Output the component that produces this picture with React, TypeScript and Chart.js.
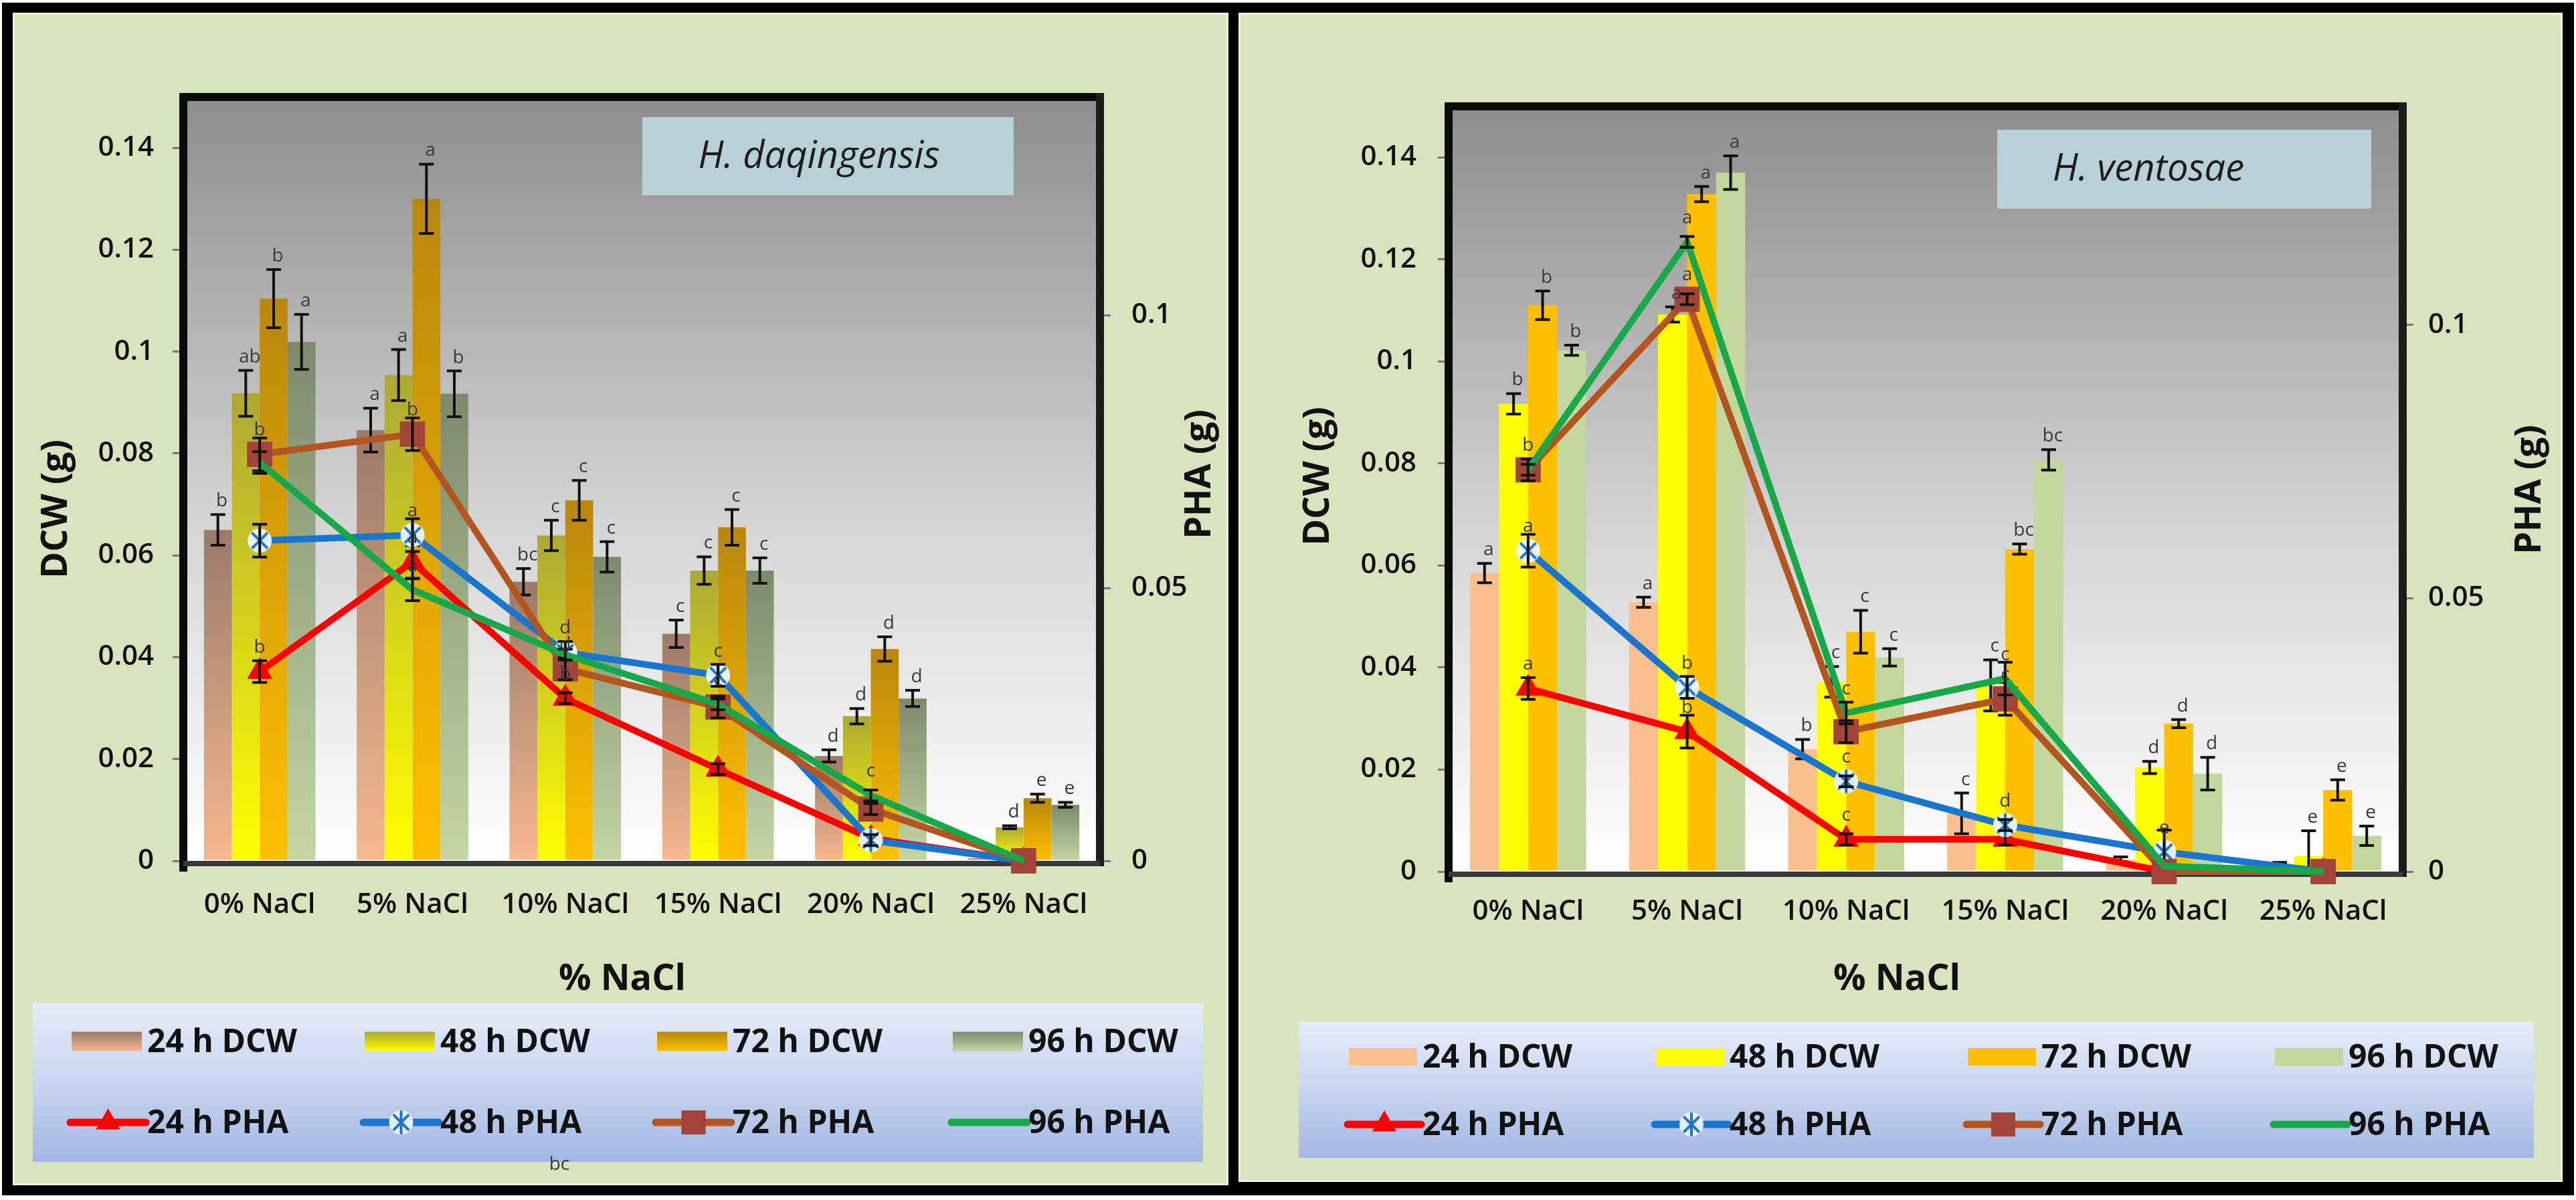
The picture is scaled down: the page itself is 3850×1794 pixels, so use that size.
import { useEffect, useRef } from "react";
import { Chart, registerables } from "chart.js";

Chart.register(...registerables);

const FONT = '"Open Sans", sans-serif';

const categories = ["0% NaCl", "5% NaCl", "10% NaCl", "15% NaCl", "20% NaCl", "25% NaCl"];
const dcwLabels = ["24 h DCW", "48 h DCW", "72 h DCW", "96 h DCW"];
const phaLabels = ["24 h PHA", "48 h PHA", "72 h PHA", "96 h PHA"];

// H. daqingensis (left panel)
const dqDcw24 = [0.065, 0.0846, 0.0548, 0.0446, 0.0206, 0.0005];
const dqDcw48 = [0.0918, 0.0954, 0.0639, 0.057, 0.0284, 0.0066];
const dqDcw72 = [0.1104, 0.13, 0.0708, 0.0655, 0.0416, 0.0123];
const dqDcw96 = [0.1019, 0.0917, 0.0597, 0.057, 0.0319, 0.011];
const dqDcw24Err = [0.003, 0.0043, 0.0026, 0.0027, 0.0012, 0];
const dqDcw48Err = [0.0045, 0.005, 0.003, 0.0027, 0.0015, 0.0003];
const dqDcw72Err = [0.0057, 0.0068, 0.0039, 0.0035, 0.0024, 0.0008];
const dqDcw96Err = [0.0054, 0.0045, 0.003, 0.0025, 0.0016, 0.0005];
const dqDcw24Let = ["b", "a", "bc", "c", "d", ""];
const dqDcw48Let = ["ab", "a", "c", "c", "d", "d"];
const dqDcw72Let = ["b", "a", "c", "c", "d", "e"];
const dqDcw96Let = ["a", "b", "c", "c", "d", "e"];
const dqPha24 = [0.0347, 0.0548, 0.0298, 0.0168, 0.0041, 0];
const dqPha48 = [0.0587, 0.0597, 0.0382, 0.034, 0.0038, 0];
const dqPha72 = [0.0745, 0.0782, 0.0352, 0.0282, 0.0095, 0];
const dqPha96 = [0.073, 0.0497, 0.0378, 0.0287, 0.012, 0];
const dqPha24Err = [0.002, 0.003, 0.001, 0.001, 0.001, 0];
const dqPha48Err = [0.003, 0.003, 0.002, 0.002, 0.001, 0];
const dqPha72Err = [0.003, 0.003, 0.002, 0.002, 0.001, 0];
const dqPha96Err = [0.002, 0.002, 0.001, 0.001, 0.001, 0];
const dqPha24Let = ["b", "a", "b", "", "", ""];
const dqPha48Let = ["", "a", "d", "c", "", ""];
const dqPha72Let = ["b", "b", "d", "", "", ""];
const dqPha96Let = ["", "a", "", "c", "c", ""];

// H. ventosae (right panel)
const vnDcw24 = [0.0585, 0.0528, 0.024, 0.0114, 0.0024, 0.0015];
const vnDcw48 = [0.0917, 0.1092, 0.0372, 0.0365, 0.0204, 0.003];
const vnDcw72 = [0.111, 0.1328, 0.047, 0.0632, 0.029, 0.0160];
const vnDcw96 = [0.1022, 0.137, 0.042, 0.0807, 0.0192, 0.0070];
const vnDcw24Err = [0.0019, 0.001, 0.0019, 0.004, 0.0005, 0.0003];
const vnDcw48Err = [0.002, 0.0015, 0.003, 0.005, 0.0012, 0.005];
const vnDcw72Err = [0.0028, 0.0015, 0.0042, 0.001, 0.0008, 0.002];
const vnDcw96Err = [0.001, 0.0033, 0.0017, 0.002, 0.0032, 0.0019];
const vnDcw24Let = ["a", "a", "b", "c", "", ""];
const vnDcw48Let = ["b", "a", "c", "c", "d", "e"];
const vnDcw72Let = ["b", "a", "c", "bc", "d", "e"];
const vnDcw96Let = ["b", "a", "c", "bc", "d", "e"];
const vnPha24 = [0.0335, 0.0256, 0.0059, 0.0059, 0, 0];
const vnPha48 = [0.0587, 0.0337, 0.0165, 0.0085, 0.0036, 0];
const vnPha72 = [0.0735, 0.1047, 0.0256, 0.0316, 0, 0];
const vnPha96 = [0.0735, 0.1152, 0.029, 0.0353, 0.001, 0];
const vnPha24Err = [0.002, 0.003, 0.001, 0.001, 0, 0];
const vnPha48Err = [0.003, 0.002, 0.001, 0.001, 0.004, 0];
const vnPha72Err = [0.002, 0.001, 0.002, 0.003, 0, 0];
const vnPha96Err = [0.001, 0.001, 0.002, 0.003, 0, 0];
const vnPha24Let = ["a", "b", "c", "", "", ""];
const vnPha48Let = ["a", "b", "c", "d", "e", ""];
const vnPha72Let = ["b", "a", "", "c", "", ""];
const vnPha96Let = ["", "a", "c", "c", "", ""];

// colours
const gradBars = [
    ["#9a7a68", "#f6b88f"],
    ["#aca835", "#ffff00"],
    ["#b9870c", "#ffc000"],
    ["#7c8a6c", "#c3d6a3"],
];
const flatBars = ["#fabf8f", "#ffff00", "#ffc000", "#c3d69b"];
const lineColors = ["#ff0000", "#1a75cf", "#b4551f", "#17a84a"];
const rectColor = "#a3443a";

function makeStarMarker(size: number, color: string) {
    const c = document.createElement("canvas");
    c.width = size;
    c.height = size;
    const g = c.getContext("2d")!;
    const r = size / 2;
    drawStar(g, r, r, r - 2, color);
    return c;
}

function drawStar(g: CanvasRenderingContext2D, x: number, y: number, r: number, color: string) {
    g.save();
    g.fillStyle = "rgba(235,245,255,0.95)";
    g.beginPath();
    g.arc(x, y, r, 0, Math.PI * 2);
    g.fill();
    g.strokeStyle = color;
    g.lineWidth = 4;
    g.lineCap = "round";
    const d = (r - 3) * Math.SQRT1_2;
    g.beginPath();
    g.moveTo(x, y - r + 2);
    g.lineTo(x, y + r - 2);
    g.moveTo(x - d, y - d);
    g.lineTo(x + d, y + d);
    g.moveTo(x + d, y - d);
    g.lineTo(x - d, y + d);
    g.stroke();
    g.restore();
}

type PanelSpec = {
    left: number; top: number; width: number; height: number;
    area: { left: number; right: number; top: number; bottom: number };
    gradient: boolean;
    title: string;
    titleBox: number[];
    titleAt: number[];
    dcwTitleAt: number[];
    phaTitleAt: number[];
    naclTitleAt: number[];
    legendBox: number[];
    legendCols: number[];
    legendRows: number[];
    swatch: number[];
    tickPad: { x: number; y: number; y1: number };
    stray?: { text: string; x: number; y: number };
    dcw: number[][]; dcwErr: number[][]; dcwLet: string[][];
    pha: number[][]; phaErr: number[][]; phaLet: string[][];
};

const leftSpec: PanelSpec = {
    left: 19, top: 19, width: 1817, height: 1753,
    area: { left: 255, right: 1625, top: 126, bottom: 1268 },
    gradient: true,
    title: "H. daqingensis",
    titleBox: [941, 156, 1496, 273],
    titleAt: [1205, 216],
    dcwTitleAt: [66, 742],
    phaTitleAt: [1775, 690],
    naclTitleAt: [911, 1446],
    legendBox: [30, 1481, 1779, 1718],
    legendCols: [88, 526, 963, 1405],
    legendRows: [1538, 1659],
    swatch: [105, 29],
    tickPad: { x: 41, y: 28, y1: 31 },
    stray: { text: "bc", x: 817, y: 1722 },
    dcw: [dqDcw24, dqDcw48, dqDcw72, dqDcw96],
    dcwErr: [dqDcw24Err, dqDcw48Err, dqDcw72Err, dqDcw96Err],
    dcwLet: [dqDcw24Let, dqDcw48Let, dqDcw72Let, dqDcw96Let],
    pha: [dqPha24, dqPha48, dqPha72, dqPha96],
    phaErr: [dqPha24Err, dqPha48Err, dqPha72Err, dqPha96Err],
    phaLet: [dqPha24Let, dqPha48Let, dqPha72Let, dqPha96Let],
};

const rightSpec: PanelSpec = {
    left: 1851, top: 19, width: 1979, height: 1748,
    area: { left: 314, right: 1740, top: 140, bottom: 1284 },
    gradient: false,
    title: "H. ventosae",
    titleBox: [1134, 175, 1693, 293],
    titleAt: [1360, 235],
    dcwTitleAt: [120, 693],
    phaTitleAt: [1931, 713],
    naclTitleAt: [984, 1446],
    legendBox: [90, 1509, 1936, 1712],
    legendCols: [165, 624, 1090, 1549],
    legendRows: [1561, 1662],
    swatch: [102, 26],
    tickPad: { x: 35, y: 32, y1: 22 },
    dcw: [vnDcw24, vnDcw48, vnDcw72, vnDcw96],
    dcwErr: [vnDcw24Err, vnDcw48Err, vnDcw72Err, vnDcw96Err],
    dcwLet: [vnDcw24Let, vnDcw48Let, vnDcw72Let, vnDcw96Let],
    pha: [vnPha24, vnPha48, vnPha72, vnPha96],
    phaErr: [vnPha24Err, vnPha48Err, vnPha72Err, vnPha96Err],
    phaLet: [vnPha24Let, vnPha48Let, vnPha72Let, vnPha96Let],
};

function drawMarker(g: CanvasRenderingContext2D, k: number, x: number, y: number) {
    g.save();
    if (k === 0) {
        const r = 21;
        g.fillStyle = lineColors[0];
        g.beginPath();
        g.moveTo(x, y - r);
        g.lineTo(x + r * 0.866, y + r / 2);
        g.lineTo(x - r * 0.866, y + r / 2);
        g.closePath();
        g.fill();
    } else if (k === 1) {
        drawStar(g, x, y, 18, lineColors[1]);
    } else if (k === 2) {
        g.fillStyle = rectColor;
        g.fillRect(x - 18, y - 18, 36, 36);
    }
    g.restore();
}

function decorPlugin(spec: PanelSpec) {
    return {
        id: "decor",
        beforeDraw(chart: any) {
            const { ctx, chartArea: a } = chart;
            ctx.save();
            const g = ctx.createLinearGradient(0, a.top, 0, a.bottom);
            g.addColorStop(0, "#8d8d8d");
            g.addColorStop(0.55, "#d4d4d4");
            g.addColorStop(1, "#ffffff");
            ctx.fillStyle = g;
            ctx.fillRect(a.left, a.top, a.right - a.left, a.bottom - a.top);
            ctx.restore();
        },
        beforeDatasetsDraw(chart: any) {
            const { ctx, chartArea: a } = chart;
            ctx.save();
            // title box
            const [x1, y1, x2, y2] = spec.titleBox;
            ctx.fillStyle = "#b8d1d7";
            ctx.fillRect(x1, y1, x2 - x1, y2 - y1);
            ctx.fillStyle = "#1c1c1c";
            ctx.font = `italic 56px ${FONT}`;
            ctx.textAlign = "center";
            ctx.textBaseline = "middle";
            ctx.fillText(spec.title, spec.titleAt[0], spec.titleAt[1]);
            // plot frame
            ctx.fillStyle = "#0a0a0a";
            ctx.fillRect(a.left - 6, a.top - 6, a.right - a.left + 12, 12);
            ctx.fillRect(a.left - 6, a.top - 6, 12, a.bottom - a.top + 22);
            ctx.fillStyle = "#1c1c1c";
            ctx.fillRect(a.right - 6, a.top - 6, 12, a.bottom - a.top + 14);
            ctx.fillStyle = "#3a3a3a";
            ctx.fillRect(a.left, a.bottom, a.right - a.left, 8);
            ctx.restore();
        },
        afterDatasetDraw(chart: any, args: any) {
            const i = args.index;
            const isBar = i < 4;
            const errs = isBar ? spec.dcwErr[i] : spec.phaErr[i - 4];
            const vals = isBar ? spec.dcw[i] : spec.pha[i - 4];
            const scale = chart.scales[isBar ? "y" : "y1"];
            const { ctx } = chart;
            ctx.save();
            ctx.strokeStyle = "#111";
            ctx.lineWidth = 4;
            args.meta.data.forEach((el: any, j: number) => {
                const e = errs[j];
                if (!e) return;
                const yt = scale.getPixelForValue(vals[j] + e);
                const yb = scale.getPixelForValue(Math.max(0, vals[j] - e));
                ctx.beginPath();
                ctx.moveTo(el.x, yt);
                ctx.lineTo(el.x, yb);
                ctx.moveTo(el.x - 11, yt);
                ctx.lineTo(el.x + 11, yt);
                ctx.moveTo(el.x - 11, yb);
                ctx.lineTo(el.x + 11, yb);
                ctx.stroke();
            });
            ctx.restore();
        },
        afterDatasetsDraw(chart: any) {
            const { ctx } = chart;
            ctx.save();
            ctx.font = `28px ${FONT}`;
            ctx.fillStyle = "#3a3a3a";
            ctx.textAlign = "center";
            ctx.textBaseline = "bottom";
            for (let i = 0; i < 8; i++) {
                const isBar = i < 4;
                const lets = isBar ? spec.dcwLet[i] : spec.phaLet[i - 4];
                const vals = isBar ? spec.dcw[i] : spec.pha[i - 4];
                const errs = isBar ? spec.dcwErr[i] : spec.phaErr[i - 4];
                const scale = chart.scales[isBar ? "y" : "y1"];
                chart.getDatasetMeta(i).data.forEach((el: any, j: number) => {
                    if (!lets[j]) return;
                    if (isBar) {
                        const y = scale.getPixelForValue(vals[j] + errs[j]) - 6;
                        ctx.fillText(lets[j], el.x + 6, y);
                    } else {
                        ctx.fillText(lets[j], el.x, el.y - 22);
                    }
                });
            }
            ctx.restore();
        },
        afterDraw(chart: any) {
            const { ctx } = chart;
            ctx.save();
            // legend panel
            const [lx1, ly1, lx2, ly2] = spec.legendBox;
            const lg = ctx.createLinearGradient(0, ly1, 0, ly2);
            lg.addColorStop(0, "#e6ecf9");
            lg.addColorStop(0.5, "#c8d5ef");
            lg.addColorStop(1, "#a3b7e2");
            ctx.fillStyle = lg;
            ctx.fillRect(lx1, ly1, lx2 - lx1, ly2 - ly1);
            const [sw, sh] = spec.swatch;
            ctx.font = `bold 48px ${FONT}`;
            ctx.textAlign = "left";
            ctx.textBaseline = "middle";
            for (let k = 0; k < 4; k++) {
                const x = spec.legendCols[k];
                // bar swatch
                const y = spec.legendRows[0];
                if (spec.gradient) {
                    const gg = ctx.createLinearGradient(0, y - sh / 2, 0, y + sh / 2);
                    gg.addColorStop(0, gradBars[k][0]);
                    gg.addColorStop(1, gradBars[k][1]);
                    ctx.fillStyle = gg;
                } else {
                    ctx.fillStyle = flatBars[k];
                }
                ctx.fillRect(x, y - sh / 2, sw, sh);
                ctx.fillStyle = "#111";
                ctx.fillText(dcwLabels[k], x + sw + 8, y + 2);
                // line swatch
                const y2 = spec.legendRows[1];
                ctx.strokeStyle = lineColors[k];
                ctx.lineWidth = 11;
                ctx.lineCap = "round";
                ctx.beginPath();
                ctx.moveTo(x - 2, y2);
                ctx.lineTo(x + sw + 6, y2);
                ctx.stroke();
                drawMarker(ctx, k, x + sw / 2 + 2, y2);
                ctx.fillStyle = "#111";
                ctx.fillText(phaLabels[k], x + sw + 8, y2 + 2);
            }
            // axis titles
            ctx.font = `bold 54px ${FONT}`;
            ctx.textAlign = "center";
            ctx.fillStyle = "#111";
            ctx.fillText("% NaCl", spec.naclTitleAt[0], spec.naclTitleAt[1]);
            const rot = (text: string, p: number[]) => {
                ctx.save();
                ctx.translate(p[0], p[1]);
                ctx.rotate(-Math.PI / 2);
                ctx.fillText(text, 0, 0);
                ctx.restore();
            };
            rot("DCW (g)", spec.dcwTitleAt);
            rot("PHA (g)", spec.phaTitleAt);
            if (spec.stray) {
                ctx.font = `28px ${FONT}`;
                ctx.fillStyle = "#3a3a3a";
                ctx.fillText(spec.stray.text, spec.stray.x, spec.stray.y);
            }
            ctx.restore();
        },
    };
}

function Panel({ spec }: { spec: PanelSpec }) {
    const chartRef = useRef<HTMLCanvasElement | null>(null);

    useEffect(() => {
        const canvas = chartRef.current;
        if (!canvas) return;
        const a = spec.area;

        const barFill = (k: number) => (c: any) => {
            if (!spec.gradient) return flatBars[k];
            const chart = c.chart;
            if (c.type !== "data" || !chart.chartArea) return gradBars[k][0];
            const ys = chart.scales.y;
            const top = ys.getPixelForValue(c.raw);
            const bot = ys.getPixelForValue(0);
            if (!(bot - top > 1)) return gradBars[k][0];
            const g = chart.ctx.createLinearGradient(0, top, 0, bot);
            g.addColorStop(0, gradBars[k][0]);
            g.addColorStop(1, gradBars[k][1]);
            return g;
        };

        const starMarker = makeStarMarker(40, lineColors[1]);
        const pointStyles: any[] = ["triangle", starMarker, "rect", "circle"];
        const pointRadii = [21, 20, 26, 0];
        const pointFill = [lineColors[0], lineColors[1], rectColor, lineColors[3]];
        const orders = [4, 3, 2, 1];

        const datasets: any[] = [
            ...spec.dcw.map((d, k) => ({
                type: "bar",
                label: dcwLabels[k],
                data: d,
                yAxisID: "y",
                order: 10,
                backgroundColor: barFill(k),
                borderWidth: 0,
                barPercentage: 1,
                categoryPercentage: 0.73,
            })),
            ...spec.pha.map((d, k) => ({
                type: "line",
                label: phaLabels[k],
                data: d,
                yAxisID: "y1",
                order: orders[k],
                borderColor: lineColors[k],
                backgroundColor: lineColors[k],
                borderWidth: 10,
                tension: 0,
                clip: false,
                pointStyle: pointStyles[k],
                pointRadius: pointRadii[k],
                pointHoverRadius: pointRadii[k],
                pointBackgroundColor: pointFill[k],
                pointBorderColor: pointFill[k],
                pointBorderWidth: 1,
            })),
        ];

        const tickFont = { family: FONT, size: 42, weight: 600 };

        const chart = new Chart(canvas, {
            type: "bar",
            data: { labels: categories, datasets },
            options: {
                animation: false,
                responsive: true,
                maintainAspectRatio: false,
                layout: {
                    padding: { top: a.top, left: 0, right: 0, bottom: spec.height - a.bottom - 120 },
                },
                plugins: {
                    legend: { display: false },
                    tooltip: { enabled: false },
                },
                scales: {
                    x: {
                        type: "category",
                        offset: true,
                        grid: { display: false, drawTicks: false },
                        border: { display: false },
                        ticks: {
                            font: tickFont,
                            color: "#111",
                            padding: spec.tickPad.x,
                            maxRotation: 0,
                            autoSkip: false,
                        },
                        afterFit: (s: any) => { s.height = 120; },
                    },
                    y: {
                        position: "left",
                        min: 0,
                        max: 0.15,
                        grid: { drawOnChartArea: false, tickLength: 16, color: "#777", lineWidth: 3 },
                        border: { display: false },
                        ticks: {
                            stepSize: 0.02,
                            includeBounds: false,
                            font: tickFont,
                            color: "#111",
                            padding: spec.tickPad.y,
                            callback: (v: any) => String(+Number(v).toFixed(2)),
                        },
                        afterFit: (s: any) => { s.width = a.left; },
                    },
                    y1: {
                        position: "right",
                        min: 0,
                        max: 0.14,
                        grid: { drawOnChartArea: false, tickLength: 16, color: "#777", lineWidth: 3 },
                        border: { display: false },
                        ticks: {
                            stepSize: 0.05,
                            includeBounds: false,
                            font: tickFont,
                            color: "#111",
                            padding: spec.tickPad.y1,
                            callback: (v: any) => String(+Number(v).toFixed(2)),
                        },
                        afterFit: (s: any) => { s.width = spec.width - a.right; },
                    },
                },
            } as any,
            plugins: [decorPlugin(spec)],
        });

        return () => {
            chart.destroy();
        };
    }, [spec]);

    return (
        <div
            style={{
                position: "absolute",
                left: spec.left,
                top: spec.top,
                width: spec.width,
                height: spec.height,
                background: "#d7e4bd",
                boxShadow: "inset 0 0 0 3px #eef4dc",
            }}
        >
            <canvas ref={chartRef} style={{ width: "100%", height: "100%" }}></canvas>
        </div>
    );
}

export default function App() {
    return (
        <div style={{ position: "absolute", left: 0, top: 0, width: 3850, height: 1794, background: "#fff", overflow: "hidden" }}>
            <div style={{ position: "absolute", left: 3, top: 4, width: 3844, height: 1783, background: "#000" }} />
            <Panel spec={leftSpec} />
            <Panel spec={rightSpec} />
        </div>
    );
}
